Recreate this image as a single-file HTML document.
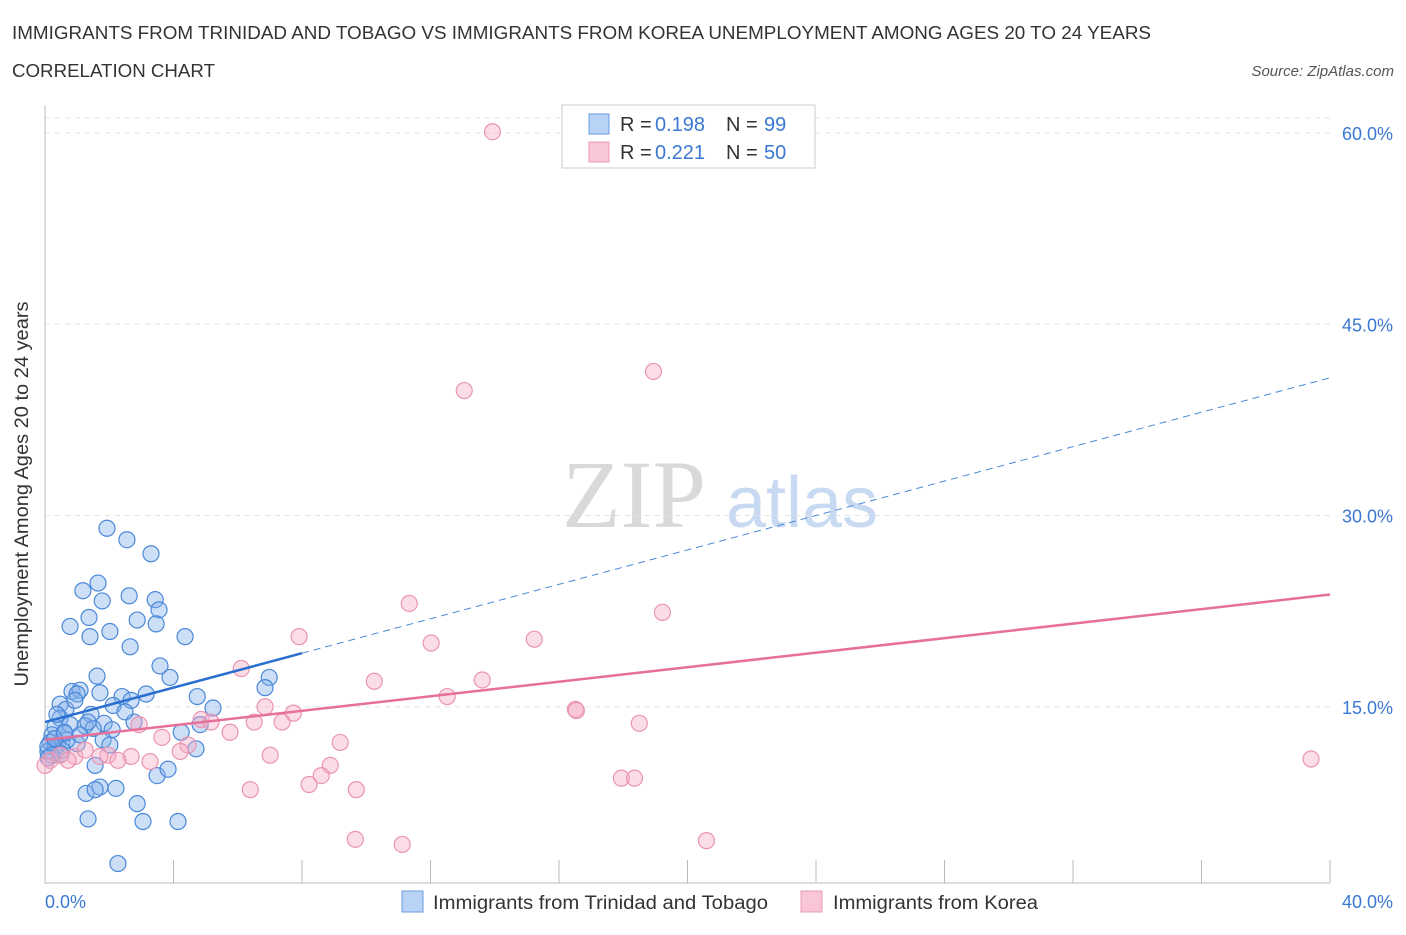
<!DOCTYPE html>
<html><head><meta charset="utf-8"><style>
body{margin:0;background:#fff;font-family:"Liberation Sans",sans-serif;}
</style></head><body>
<svg id="c" width="1406" height="930" viewBox="0 0 1406 930" font-family="Liberation Sans, sans-serif">
<text x="12" y="39" font-size="18" fill="#333" textLength="1139" lengthAdjust="spacingAndGlyphs">IMMIGRANTS FROM TRINIDAD AND TOBAGO VS IMMIGRANTS FROM KOREA UNEMPLOYMENT AMONG AGES 20 TO 24 YEARS</text>
<text x="12" y="77" font-size="18" fill="#333" textLength="203" lengthAdjust="spacingAndGlyphs">CORRELATION CHART</text>
<text x="1394" y="76" font-size="15" fill="#555" font-style="italic" text-anchor="end">Source: ZipAtlas.com</text>
<g>
<text x="634" y="527" font-size="96" fill="#d9d9d9" style="font-family:'Liberation Serif',serif" text-anchor="middle">ZIP</text>
<text x="802" y="527" font-size="72" fill="#c8daf2" text-anchor="middle">atlas</text>
</g>
<g id="grid"></g>
<g id="axes"></g>
<g id="pts"></g>
<g id="trend"></g>
<g>
<rect x="562" y="105" width="253" height="63" fill="#fff" stroke="#ccc"/>
<rect x="589" y="114" width="20" height="20" fill="#b8d3f5" stroke="#6a9ee0"/>
<rect x="589" y="142" width="20" height="20" fill="#f9c6d6" stroke="#e89ab4"/>
<text x="620" y="131" font-size="20" fill="#333">R =</text>
<text x="655" y="131" font-size="20" fill="#3a78d4">0.198</text>
<text x="726" y="131" font-size="20" fill="#333">N =</text>
<text x="764" y="131" font-size="20" fill="#3a78d4">99</text>
<text x="620" y="159" font-size="20" fill="#333">R =</text>
<text x="655" y="159" font-size="20" fill="#3a78d4">0.221</text>
<text x="726" y="159" font-size="20" fill="#333">N =</text>
<text x="764" y="159" font-size="20" fill="#3a78d4">50</text>
</g>
<g>
<rect x="402" y="891" width="21" height="21" fill="#b8d3f5" stroke="#6a9ee0"/>
<text x="433" y="909" font-size="19" fill="#333" textLength="335" lengthAdjust="spacingAndGlyphs">Immigrants from Trinidad and Tobago</text>
<rect x="801" y="891" width="21" height="21" fill="#f9c6d6" stroke="#e89ab4"/>
<text x="833" y="909" font-size="19" fill="#333" textLength="205" lengthAdjust="spacingAndGlyphs">Immigrants from Korea</text>
</g>
<text x="28" y="494" font-size="19" fill="#333" text-anchor="middle" textLength="385" lengthAdjust="spacingAndGlyphs" transform="rotate(-90 28 494)">Unemployment Among Ages 20 to 24 years</text>
</svg>
<script>
const yTicks=[15,30,45,60];
const yTickLabels=["15.0%","30.0%","45.0%","60.0%"];
const xEndLabels=["0.0%","40.0%"];
const blueX=[1.93,2.55,3.30,1.65,1.18,2.62,1.78,3.43,3.55,1.37,2.87,3.46,0.78,2.02,1.40,4.36,2.65,3.58,3.89,1.62,6.98,6.85,0.84,1.09,1.0,1.71,2.40,3.15,2.68,4.74,0.47,0.65,0.93,2.12,5.23,2.77,1.43,1.84,4.24,0.47,0.78,1.25,0.31,0.22,0.62,1.50,2.09,0.16,0.40,1.0,1.81,2.02,4.70,0.09,0.31,1.56,3.49,3.83,2.87,1.28,1.71,2.21,1.56,1.34,3.05,4.14,2.27,0.69,1.09,0.53,0.09,0.37,1.34,2.49,4.83,0.2,0.1,0.5,0.3,0.6];
const blueY=[29.0,28.1,27.0,24.7,24.1,23.7,23.3,23.4,22.6,22.0,21.8,21.5,21.3,20.9,20.5,20.5,19.7,18.2,17.3,17.4,17.3,16.5,16.2,16.3,16.0,16.1,15.8,16.0,15.5,15.8,15.2,14.8,15.5,15.1,14.9,13.8,14.4,13.7,13.0,14.1,13.6,13.5,13.4,12.8,12.9,13.3,13.2,12.2,12.0,12.1,12.4,12.0,11.7,11.5,11.8,10.4,9.6,10.1,7.4,8.2,8.7,8.6,8.5,6.2,6.0,6.0,2.7,12.4,12.8,11.6,11.9,14.4,13.8,14.6,13.6,11.2,11.0,11.3,12.5,13.0];
const pinkX=[13.93,18.94,13.05,11.34,19.22,7.91,15.23,12.02,6.11,10.25,13.61,12.52,16.51,16.54,6.85,7.73,4.86,18.50,6.51,5.17,7.38,5.76,2.93,3.64,4.45,9.19,4.21,1.96,2.68,7.01,3.27,8.88,8.60,8.22,6.39,9.69,17.94,18.35,9.66,11.12,20.59,39.41,0.16,0.47,0.93,1.25,1.71,2.27,0.0,0.72];
const pinkY=[60.1,41.3,39.8,23.1,22.4,20.5,20.3,20.0,18.0,17.0,17.1,15.8,14.8,14.7,15.0,14.5,14.0,13.7,13.8,13.8,13.8,13.0,13.6,12.6,12.0,12.2,11.5,11.2,11.1,11.2,10.7,10.4,9.6,8.9,8.5,8.5,9.4,9.4,4.6,4.2,4.5,10.9,10.8,11.2,11.1,11.6,11.1,10.8,10.4,10.8];
const blueTrend=[13.8,40.8];
const pinkTrend=[12.4,23.8];
const NS="http://www.w3.org/2000/svg";
const sx=v=>45+v*32.125, sy=v=>898-v*12.75;
function mk(t,a,p){const e=document.createElementNS(NS,t);for(const k in a)e.setAttribute(k,a[k]);p.appendChild(e);return e;}
const grid=document.getElementById('grid'),axes=document.getElementById('axes'),pts=document.getElementById('pts'),tr=document.getElementById('trend');
yTicks.forEach((t,i)=>{
 const l=mk('line',{x1:45,x2:1330,y1:sy(t),y2:sy(t),stroke:'#e3e3e3','stroke-dasharray':'5,5'},grid);
 
 
 const tx=mk('text',{x:1393,y:sy(t)+7,'font-size':18,fill:'#3a78d4','text-anchor':'end'},axes);
 tx.textContent=yTickLabels[i];
 
 
});
mk('line',{x1:45,x2:1330,y1:118,y2:118,stroke:'#e3e3e3','stroke-dasharray':'5,5'},grid);
const ya=mk('line',{x1:45,x2:45,y1:105,y2:883,stroke:'#bbb'},axes);


const xa=mk('line',{x1:45,x2:1330,y1:883,y2:883,stroke:'#bbb'},axes);


for(let i=0;i<=10;i++){const t=mk('line',{x1:sx(i*4),x2:sx(i*4),y1:883,y2:860,stroke:'#bbb'},axes);
 
 }
[[0,'start',45],[40,'end',1393]].forEach((d,i)=>{const t=mk('text',{x:d[2],y:908,'font-size':18,fill:'#3a78d4','text-anchor':d[1]},axes);t.textContent=xEndLabels[i];
 
 });
blueX.forEach((x,i)=>{const c=mk('circle',{cx:sx(x),cy:sy(blueY[i]),r:8,fill:'rgba(130,175,235,0.4)',stroke:'#4a88d8','stroke-width':1.2},pts);
 
 });
pinkX.forEach((x,i)=>{const c=mk('circle',{cx:sx(x),cy:sy(pinkY[i]),r:8,fill:'rgba(245,170,195,0.4)',stroke:'#ea94b2','stroke-width':1.2},pts);
 
 });
const bAt=x=>blueTrend[0]+(blueTrend[1]-blueTrend[0])*x/40;
const b1=mk('line',{x1:sx(0),y1:sy(bAt(0)),x2:sx(8),y2:sy(bAt(8)),stroke:'#2a6fd0','stroke-width':2.5},tr);


const b2=mk('line',{x1:sx(8),y1:sy(bAt(8)),x2:sx(40),y2:sy(bAt(40)),stroke:'#4a88d8','stroke-width':1,'stroke-dasharray':'7,5'},tr);


const p1=mk('line',{x1:sx(0),y1:sy(pinkTrend[0]),x2:sx(40),y2:sy(pinkTrend[1]),stroke:'#e6709a','stroke-width':2.5},tr);


</script>
</body></html>
